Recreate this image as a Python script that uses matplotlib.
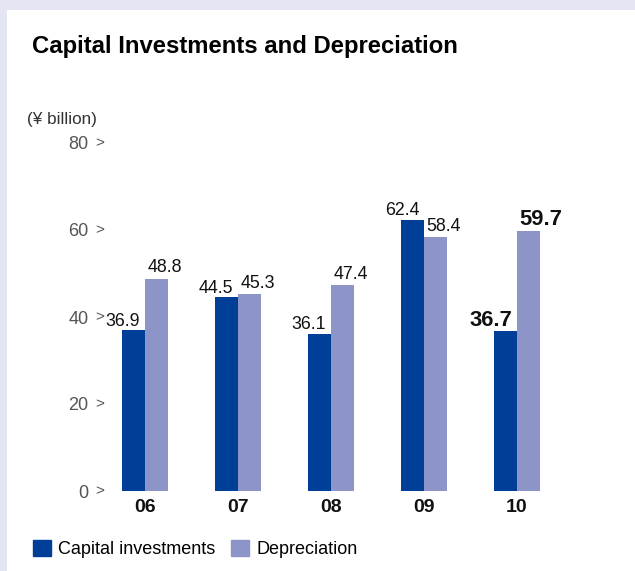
import matplotlib.pyplot as plt
from matplotlib.patches import Rectangle, Patch

plt.rcParams['font.family'] = ['Liberation Sans', 'DejaVu Sans']

years = ['06', '07', '08', '09', '10']
capital = [36.9, 44.5, 36.1, 62.4, 36.7]
depreciation = [48.8, 45.3, 47.4, 58.4, 59.7]
yticks = [0, 20, 40, 60, 80]

c_cap = '#003f98'
c_dep = '#8c94c8'

W, H = 635, 571
fig = plt.figure(figsize=(W / 100, H / 100), dpi=100)
fig.patch.set_facecolor('#e3e5f2')
# white card behind everything
fig.patches.append(Rectangle((7 / W, 0), 1, 1 - 10 / H, transform=fig.transFigure,
                             facecolor='white', edgecolor='none', zorder=-10))

fig.text(32 / W, 1 - 46 / H, 'Capital Investments and Depreciation',
         fontsize=17.2, fontweight='bold', va='center', ha='left')
fig.text(27 / W, 1 - 120 / H, '(¥ billion)', fontsize=12.3, color='#333333',
         va='center', ha='left')

ax_l, ax_r = 105, 620
ax_b, ax_t = 491, 143
ax = fig.add_axes([ax_l / W, 1 - ax_b / H, (ax_r - ax_l) / W, (ax_b - ax_t) / H])
ax.set_facecolor('none')

x = list(range(len(years)))
w = 0.247
ax.bar([i - w / 2 for i in x], capital, width=w, color=c_cap, label='Capital investments')
ax.bar([i + w / 2 for i in x], depreciation, width=w, color=c_dep, label='Depreciation')

ax.set_xlim((ax_l - 145) / 93, (ax_r - 145) / 93)
ax.set_ylim(0, 80)

for s in ax.spines.values():
    s.set_visible(False)

ax.set_xticks(x)
ax.set_xticklabels(years, fontsize=14, fontweight='bold', color='#111111')
ax.tick_params(axis='x', length=0, pad=6)
ax.set_yticks(yticks)
ax.set_yticklabels([str(v) for v in yticks], fontsize=13, color='#555555')
ax.tick_params(axis='y', length=0, pad=12)
for v in yticks:
    ax.annotate('>', xy=(0, v), xycoords=('axes fraction', 'data'),
                xytext=(-4, 0), textcoords='offset points',
                ha='center', va='center', fontsize=11, color='#555555')

# value labels: capital to the upper left, depreciation to the upper right
for i in x:
    last = i == len(years) - 1
    fs = 15.8 if last else 12.8
    fw = 'bold' if last else 'normal'
    ax.annotate(f'{capital[i]}', xy=(i, capital[i]), xytext=(-3.5, 3.5),
                textcoords='offset points', ha='right', va='baseline',
                fontsize=fs, fontweight=fw, color='#111111')
    ax.annotate(f'{depreciation[i]}', xy=(i, depreciation[i]), xytext=(2, 4.5),
                textcoords='offset points', ha='left', va='baseline',
                fontsize=fs, fontweight=fw, color='#111111')

handles = [Patch(color=c_cap, label='Capital investments'),
           Patch(color=c_dep, label='Depreciation')]
fig.legend(handles=handles, loc='center left', bbox_to_anchor=(26 / W, 1 - 549 / H),
           ncol=2, frameon=False, fontsize=13, handlelength=1.0, handleheight=1.0,
           handletextpad=0.4, columnspacing=0.85, borderaxespad=0)

fig.savefig('out.png', dpi=100, facecolor=fig.get_facecolor())
